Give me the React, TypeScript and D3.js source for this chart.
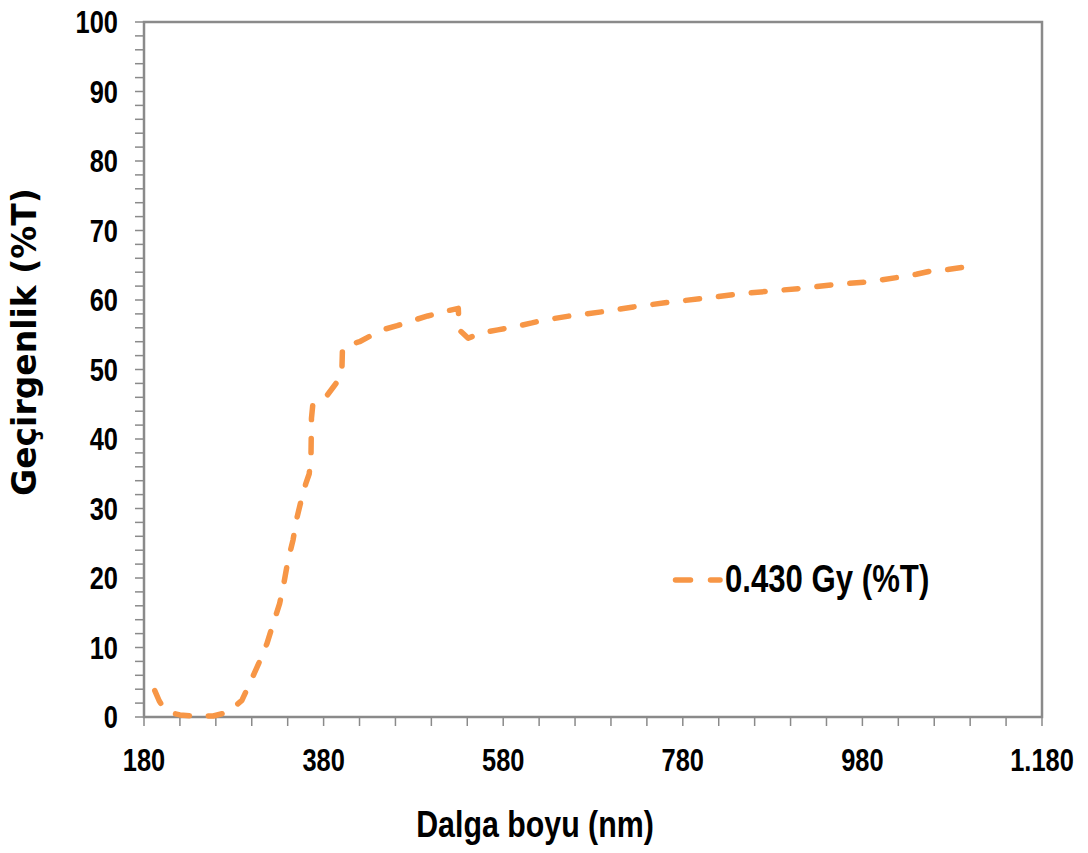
import React from "react";
import * as d3 from "d3";

const wavelength = [192, 197, 202, 210, 220, 237, 257, 274, 289, 298, 308, 317, 324, 331, 336, 340, 346, 350, 356, 360, 364, 366, 366.5, 368, 384, 395, 399, 400.5, 401, 404, 420, 445, 462, 478, 496, 513, 530, 531, 541, 556, 574, 591, 612, 621, 654, 690, 725, 766, 808, 844, 879, 914, 947, 986, 1022, 1040, 1057, 1075, 1092, 1102];
const transmittance = [3.8, 2.3, 1.3, 0.6, 0.3, 0.1, 0.15, 0.7, 2.4, 4.9, 7.8, 10.6, 13.5, 16.3, 19.4, 22.3, 25.5, 28.5, 31.7, 33.5, 35, 38, 43, 45, 46.3, 48.2, 49, 50.5, 53, 53.4, 54, 55.7, 56.3, 57.0, 57.7, 58.3, 58.8, 55.7, 54.5, 55.3, 55.7, 56.1, 56.7, 57.0, 57.7, 58.3, 59.0, 59.7, 60.3, 60.9, 61.3, 61.7, 62.2, 62.6, 63.3, 63.7, 64.2, 64.4, 64.7, 64.9];

const xTickValues = [180, 380, 580, 780, 980, 1180];
const xTickLabels = ["180", "380", "580", "780", "980", "1.180"];
const yTickValues = [0, 10, 20, 30, 40, 50, 60, 70, 80, 90, 100];
const seriesName = "0.430 Gy (%T)";
const xTitle = "Dalga boyu (nm)";
const yTitle = "Geçirgenlik (%T)";

const W = 1088;
const H = 853;
const L = 144, R = 1042, T = 22, B = 717;
const ORANGE = "#F79646";
const GRAY = "#8a8a8a";
const FONT = "'Liberation Sans', Arial, sans-serif";
const SQUEEZE = 0.82;

function Narrow(props: { x: number; y: number; size: number; anchor?: string; dy?: string; children: React.ReactNode }) {
  return (
    <text
      transform={`translate(${props.x},${props.y}) scale(${SQUEEZE},1)`}
      dy={props.dy}
      textAnchor={props.anchor || "start"}
      fontFamily={FONT}
      fontWeight="bold"
      fontSize={props.size}
      fill="#000"
    >
      {props.children}
    </text>
  );
}

export default function App() {
  const x = d3.scaleLinear().domain([180, 1180]).range([L, R]);
  const y = d3.scaleLinear().domain([0, 100]).range([B, T]);
  const pts: [number, number][] = wavelength.map((w, i) => [w, transmittance[i]]);
  const line = d3.line<[number, number]>().x(d => x(d[0])).y(d => y(d[1]));
  const xMinor = d3.range(180, 1180.1, 40);
  const yMinor = d3.range(0, 100.1, 2);

  return (
    <svg width={W} height={H} style={{ position: "absolute", left: 0, top: 0, background: "#fff" }}>
      <rect x={0} y={0} width={W} height={H} fill="#fff" />
      {xMinor.map(v => (
        <line key={"xt" + v} x1={x(v)} x2={x(v)} y1={B} y2={B + 9} stroke={GRAY} strokeWidth={1.5} />
      ))}
      {yMinor.map(v => (
        <line key={"yt" + v} x1={L - 9} x2={L} y1={y(v)} y2={y(v)} stroke={GRAY} strokeWidth={1.5} />
      ))}
      <rect x={L} y={T} width={R - L} height={B - T} fill="none" stroke={GRAY} strokeWidth={2.5} />
      {yTickValues.map(v => (
        <Narrow key={"yl" + v} x={118} y={y(v)} dy="0.36em" anchor="end" size={31}>{v}</Narrow>
      ))}
      {xTickValues.map((v, i) => (
        <Narrow key={"xl" + v} x={x(v)} y={771} anchor="middle" size={31}>{xTickLabels[i]}</Narrow>
      ))}
      <path d={line(pts) || ""} fill="none" stroke={ORANGE} strokeWidth={5.5} strokeDasharray="14 19" strokeLinecap="round" strokeLinejoin="round" />
      <line x1={675.5} x2={720} y1={580} y2={580} stroke={ORANGE} strokeWidth={5.5} strokeDasharray="15 20" strokeLinecap="round" />
      <Narrow x={725} y={592} size={38}>{seriesName}</Narrow>
      <Narrow x={535} y={837} anchor="middle" size={37}>{xTitle}</Narrow>
      <text transform="translate(36,342) rotate(-90)" textAnchor="middle" fontFamily="'DejaVu Sans', sans-serif" fontWeight="bold" fontSize={33} fill="#000">{yTitle}</text>
    </svg>
  );
}
